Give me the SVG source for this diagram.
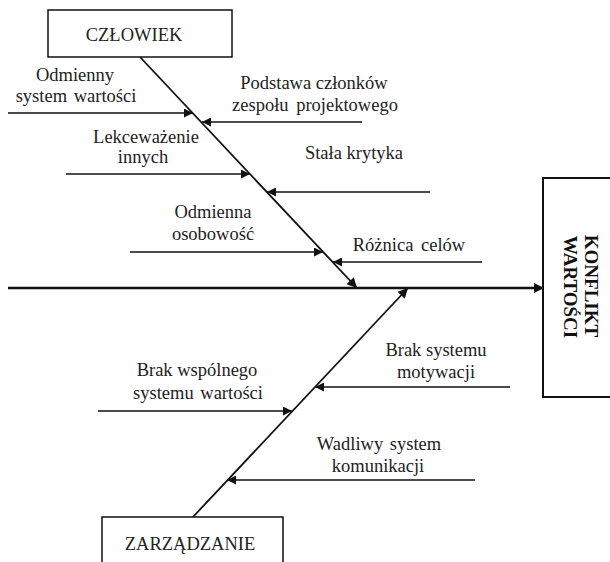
<svg xmlns="http://www.w3.org/2000/svg" width="610" height="562" viewBox="0 0 610 562">
<style>
  .lbl { font-family: 'Liberation Serif', 'Times New Roman', serif; font-size: 18.5px; fill: #222; text-anchor: middle; }
  .box { fill: #fff; stroke: #111; stroke-width: 1.5; }
  .head { font-weight: bold; font-size: 19px; fill: #111; }
  .spine { stroke: #111; stroke-width: 2.5; fill: none; }
  .bone { stroke: #111; stroke-width: 1.8; fill: none; }
  .rib { stroke: #111; stroke-width: 1.5; fill: none; marker-end: url(#ah); }
</style>
<defs>
  <marker id="ah" viewBox="0 0 10 10" refX="10" refY="5" markerWidth="10" markerHeight="9" markerUnits="userSpaceOnUse" orient="auto">
    <path d="M0,0 L10,5 L0,10 Z" fill="#111"/>
  </marker>
  <marker id="ahb" viewBox="0 0 10 10" refX="10" refY="5" markerWidth="11" markerHeight="10" markerUnits="userSpaceOnUse" orient="auto">
    <path d="M0,0 L10,5 L0,10 Z" fill="#111"/>
  </marker>
</defs>

<g id="connectors">
  <line class="spine" x1="8" y1="288" x2="544" y2="288" marker-end="url(#ahb)"/>
  <line class="bone" x1="140" y1="57" x2="357" y2="288" marker-end="url(#ahb)"/>
  <line class="bone" x1="192" y1="518" x2="408" y2="288" marker-end="url(#ahb)"/>
  <line class="rib" x1="8" y1="113" x2="193" y2="113"/>
  <line class="rib" x1="362" y1="122" x2="202" y2="122"/>
  <line class="rib" x1="66" y1="174" x2="250" y2="174"/>
  <line class="rib" x1="430" y1="192" x2="267" y2="192"/>
  <line class="rib" x1="130" y1="252" x2="323" y2="252"/>
  <line class="rib" x1="482" y1="262" x2="333" y2="262"/>
  <line class="rib" x1="510" y1="387" x2="315" y2="387"/>
  <line class="rib" x1="98" y1="411" x2="292" y2="411"/>
  <line class="rib" x1="475" y1="480" x2="227" y2="480"/>
</g>

<g id="czlowiek">
  <rect class="box" x="48" y="10" width="184" height="47"/>
  <text class="lbl" x="134" y="41" font-size="17">CZŁOWIEK</text>
</g>

<g id="zarzadzanie">
  <rect class="box" x="102" y="517" width="181" height="60"/>
  <text class="lbl" x="190" y="550">ZARZĄDZANIE</text>
</g>

<g id="konflikt">
  <rect x="543" y="178" width="80" height="219" fill="#fff" stroke="#111" stroke-width="2"/>
  <text class="lbl head" transform="translate(585,286) rotate(90)">KONFLIKT</text>
  <text class="lbl head" transform="translate(564,287) rotate(90)">WARTOŚCI</text>
</g>

<g id="odmienny">
  <text class="lbl" x="75" y="81">Odmienny</text>
  <text class="lbl" x="76" y="102" word-spacing="2">system wartości</text>
</g>
<g id="podstawa">
  <text class="lbl" x="314" y="89">Podstawa członków</text>
  <text class="lbl" x="315" y="111" word-spacing="3">zespołu projektowego</text>
</g>
<g id="lekcewazenie">
  <text class="lbl" x="146" y="143">Lekceważenie</text>
  <text class="lbl" x="143" y="163">innych</text>
</g>
<g id="stala">
  <text class="lbl" x="354" y="159">Stała krytyka</text>
</g>
<g id="odmienna">
  <text class="lbl" x="213" y="218">Odmienna</text>
  <text class="lbl" x="213" y="240">osobowość</text>
</g>
<g id="roznica">
  <text class="lbl" x="409" y="251" word-spacing="3">Różnica celów</text>
</g>
<g id="brak-motywacji">
  <text class="lbl" x="436" y="356">Brak systemu</text>
  <text class="lbl" x="436" y="378">motywacji</text>
</g>
<g id="brak-wspolnego">
  <text class="lbl" x="197" y="376">Brak wspólnego</text>
  <text class="lbl" x="198" y="399" word-spacing="2">systemu wartości</text>
</g>
<g id="wadliwy">
  <text class="lbl" x="379" y="450" word-spacing="2">Wadliwy system</text>
  <text class="lbl" x="378" y="472">komunikacji</text>
</g>
</svg>
